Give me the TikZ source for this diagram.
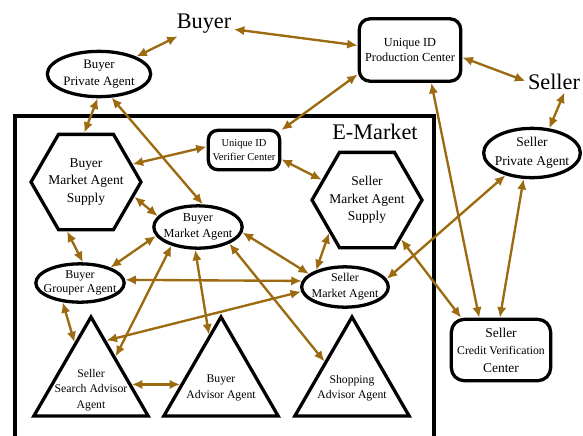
\documentclass[tikz,border=0pt]{standalone}
\usepackage{fontspec}
\setmainfont{Liberation Serif}
\usepackage{xcolor}
\usetikzlibrary{shapes.geometric,arrows.meta}
\definecolor{linkbrown}{RGB}{156,106,16}
\tikzset{
    every node/.style={font=\fontsize{10.5}{13.5}\selectfont},
    every label/.style={font=\fontsize{10.5}{13.5}\selectfont, align=center}
}

\begin{document}
\begin{tikzpicture}[x=0.03cm,y=-0.03cm]
    % Define styles for agents, centers and links
    \tikzstyle{agent} = [ellipse, draw, line width=2.8pt, inner sep=0pt]
    \tikzstyle{hexa} = [regular polygon, regular polygon sides=6, draw,
        line width=2.8pt, inner sep=0pt, minimum size=3.3cm]
    \tikzstyle{tri} = [regular polygon, regular polygon sides=3, draw,
        line width=2.8pt, inner sep=0pt, minimum size=3.96cm]
    \tikzstyle{idbox} = [rectangle, rounded corners=9pt, draw,
        line width=2.8pt, inner sep=0pt, align=center]
    \tikzstyle{bigtext} = [font=\fontsize{19}{22}\selectfont, inner sep=2pt]
    \tikzstyle{link} = [draw=linkbrown, line width=2pt,
        {Latex[length=9pt,width=8pt]}-{Latex[length=9pt,width=8pt]}]

    \useasboundingbox (0,0) rectangle (583,435);

    % E-Market frame
    \draw[line width=2.8pt] (15,445) -- (15,116) -- (434,116) -- (434,445);
    \node[bigtext] (emlabel) at (375,132) {E-Market};

    % Outside parties
    \node[bigtext] (buyer) at (204,24) {Buyer};
    \node[bigtext] (seller) at (554,82) {Seller};
    \node[agent, minimum width=3.1cm, minimum height=1.36cm,
        label={[font=\fontsize{11}{15}\selectfont]center:Buyer\\Private Agent}] (bpa) at (99,74) {};
    \node[idbox, minimum width=3.04cm, minimum height=1.87cm,
        font=\fontsize{10.5}{13}\selectfont] (uidpc) at (410,50) {Unique ID\\Production Center};
    \node[agent, minimum width=2.9cm, minimum height=1.48cm,
        label={[font=\fontsize{11.5}{16}\selectfont]center:Seller\\Private Agent}] (spa) at (532,153) {};
    \node[idbox, rounded corners=11pt, minimum width=2.98cm, minimum height=1.84cm,
        font=\fontsize{11.5}{15}\selectfont] (scvc) at (501,350)
        {Seller\\{\fontsize{10}{15}\selectfont Credit Verification}\\Center};

    % Agents inside the market
    \node[idbox, rounded corners=8pt, minimum width=2.14cm, minimum height=1.18cm,
        font=\fontsize{9}{11.5}\selectfont] (uidvc) at (244,150) {Unique ID\\Verifier Center};
    \node[hexa, label={[font=\fontsize{11.5}{15}\selectfont]center:Buyer\\Market Agent\\Supply}] (bmas) at (86,182) {};
    \node[hexa, label={[font=\fontsize{11.5}{15}\selectfont]center:Seller\\Market Agent\\Supply}] (smas) at (367,200) {};
    \node[agent, minimum width=2.65cm, minimum height=1.27cm,
        label={center:Buyer\\Market Agent}] (bma) at (198,227) {};
    \node[agent, minimum width=2.65cm, minimum height=1.15cm,
        label={[font=\fontsize{10.3}{12.5}\selectfont]center:Buyer\\Grouper Agent}] (bga) at (80,283) {};
    \node[agent, minimum width=2.6cm, minimum height=1.21cm,
        label={[font=\fontsize{10.2}{13.5}\selectfont]center:Seller\\Market Agent}] (sma) at (345,287) {};
    \node[tri, label={[yshift=-6pt, font=\fontsize{10}{13.5}\selectfont]center:Seller\\Search Advisor\\Agent}] (ssaa) at (91,383) {};
    \node[tri, label={[yshift=-4.5pt, font=\fontsize{10}{13.5}\selectfont]center:Buyer\\Advisor Agent}] (baa) at (221,383) {};
    \node[tri, label={[yshift=-4.5pt, font=\fontsize{10}{13.5}\selectfont]center:Shopping\\Advisor Agent}] (saa) at (352,383) {};

    % Links outside the market
    \draw[link] (bpa.25) -- (buyer.205);
    \draw[link] (buyer.-10) -- (uidpc.175);
    \draw[link] (uidpc.-8) -- (seller.178);
    \draw[link] (seller.-45) -- (spa.55);
    \draw[link] (uidpc.205) -- (uidvc.28);
    \draw[link] (uidpc.-57) -- (scvc.124);
    \draw[link] (spa.-108) -- (scvc.92);
    \draw[link] (spa.-140) -- (sma.11);
    \draw[link] (smas.-49) -- (scvc.141);

    % Links inside the market
    \draw[link] (bpa.-93) -- (bmas.92);
    \draw[link] (bpa.-62) -- (bma.78);
    \draw[link] (bmas.21) -- (uidvc.175);
    \draw[link] (uidvc.-14) -- (smas.156);
    \draw[link] (bmas.-17) -- (bma.165);
    \draw[link] (bmas.-111) -- (bga.82);
    \draw[link] (bma.192) -- (bga.27);
    \draw[link] (bga.4) -- (sma.172);
    \draw[link] (bma.-7) -- (sma.160);
    \draw[link] (smas.-139) -- (sma.150);
    \draw[link] (bga.-132) -- (ssaa.112);
    \draw[link] (sma.186) -- (ssaa.70);
    \draw[link] (bma.-145) -- (ssaa.47);
    \draw[link] (bma.-97) -- (baa.104);
    \draw[link] (bma.-28) -- (saa.142);
    \draw[link] (ssaa.-2) -- (baa.182);
\end{tikzpicture}
\end{document}
